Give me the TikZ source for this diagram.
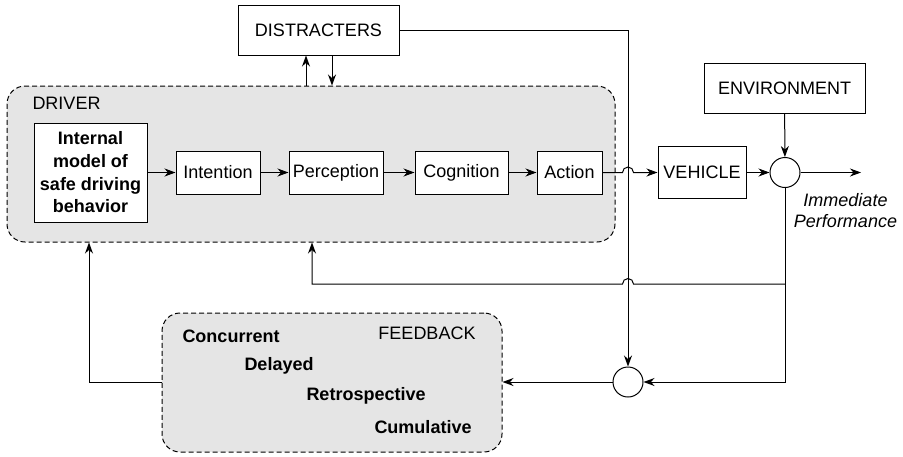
\documentclass[tikz,border=0pt]{standalone}
\usepackage{fontspec}
\setmainfont{Liberation Sans}
\usetikzlibrary{arrows.meta,calc}
\begin{document}
\begin{tikzpicture}[x=1pt,y=-1pt,line width=1pt,
  font=\fontsize{18}{22.5}\selectfont,
  box/.style={draw,inner sep=0pt,align=center},
  arr/.style={-{Stealth[length=11pt,width=8pt,inset=3.5pt]}},
  group/.style={draw,dash pattern=on 5pt off 3pt,fill=black!10,rounded corners=18pt,inner sep=0pt},
  sumc/.style={circle,draw,minimum size=30pt,inner sep=0pt},
  lbl/.style={inner sep=0pt},
  fbitem/.style={inner sep=0pt,anchor=west,font=\fontsize{18}{22.5}\selectfont\bfseries}]
\useasboundingbox (0,0) rectangle (903,456);
% containers
\node[group,minimum width=608pt,minimum height=156pt] (driver) at (311,164) {};
\node[group,minimum width=340pt,minimum height=139pt] (fb) at (332,382.5) {};
\node[lbl,anchor=west] (drvlabel) at (32,103) {DRIVER};
\node[lbl] (fblabel) at (427,333) {FEEDBACK};
\node[fbitem] (c1) at (182,336) {Concurrent};
\node[fbitem] (c2) at (244,366) {Delayed};
\node[fbitem] (c3) at (306,396) {Retrospective};
\node[fbitem] (c4) at (374,427) {Cumulative};
% boxes
\node[box,fill=white,minimum width=161pt,minimum height=50pt] (distr) at (318.5,30) {DISTRACTERS};
\node[box,fill=white,minimum width=113pt,minimum height=99pt,font=\fontsize{18}{22.7}\selectfont\bfseries] (model) at (90.5,172.5) {Internal\\model of\\safe driving\\behavior};
\node[box,fill=white,minimum width=84pt,minimum height=43pt] (intent) at (218,172.5) {Intention};
\node[box,fill=white,minimum width=94pt,minimum height=43pt] (percep) at (336,172.5) {Perception};
\node[box,fill=white,minimum width=93pt,minimum height=43pt] (cogn) at (461.5,172.5) {Cognition};
\node[box,fill=white,minimum width=65pt,minimum height=43pt] (action) at (569.5,172.5) {Action};
\node[box,minimum width=88pt,minimum height=52pt] (vehicle) at (702,172.5) {VEHICLE};
\node[box,minimum width=161pt,minimum height=50pt] (env) at (784.5,88) {ENVIRONMENT};
\node[sumc] (sum1) at (785,172.5) {};
\node[sumc] (sum2) at (628,382) {};
\node[lbl,align=center,font=\fontsize{18}{21}\selectfont\itshape] (perf) at (845.5,211) {Immediate\\Performance};
% helper coordinates
\coordinate (u1) at (306,0);
\coordinate (d1) at (332,0);
\coordinate (vx) at (628,0);
\coordinate (fy) at (0,284);
\coordinate (fx) at (312,0);
\coordinate (lx) at (89,0);
\coordinate (outr) at (861,172.5);
% connectors
\draw[arr] (u1 |- driver.north) -- (u1 |- distr.south);
\draw[arr] (d1 |- distr.south) -- (d1 |- driver.north);
\draw[arr] (model) -- (intent);
\draw[arr] (intent) -- (percep);
\draw[arr] (percep) -- (cogn);
\draw[arr] (cogn) -- (action);
\draw[arr] (action.east) -- ($(vx |- action.east)+(-5.5,0)$) arc[start angle=180,end angle=0,radius=5.5pt] -- (vehicle.west);
\draw[arr] (distr.east) -- (vx |- distr.east) -- (sum2.north);
\draw[arr] (vehicle) -- (sum1);
\draw[arr] (env) -- (sum1);
\draw[arr] (sum1) -- (outr);
\draw[arr] (sum1.south) -- (sum1 |- sum2) -- (sum2.east);
\draw[arr] (sum1 |- fy) -- ($(vx |- fy)+(5.5,0)$) arc[start angle=0,end angle=180,radius=5.5pt] -- (fx |- fy) -- (fx |- driver.south);
\draw[arr] (sum2.west) -- (fb.east |- sum2);
\draw[arr] (fb.west |- sum2) -- (lx |- sum2) -- (lx |- driver.south);
\end{tikzpicture}
\end{document}
